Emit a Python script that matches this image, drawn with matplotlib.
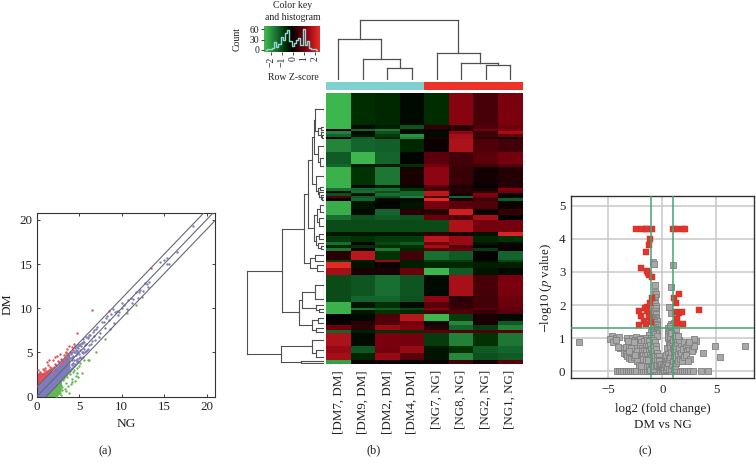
import numpy as np
import matplotlib
matplotlib.use("Agg")
import matplotlib.pyplot as plt
from matplotlib.colors import LinearSegmentedColormap

plt.rcParams['font.family'] = ['Liberation Serif', 'DejaVu Serif']
plt.rcParams['mathtext.fontset'] = 'stix'

# ---------- panel (a) data ----------
a_ticks = [0, 5, 10, 15, 20]
fold_offset = [1.1, 0.0, -1.1]
purple_dense_end = 3.9
red_dense_x = [0, 0.3, 0.6, 0.9, 1.2, 1.5, 1.8]
red_dense_top = [2.6, 2.8, 2.7, 2.85, 3.0, 3.2, 3.3]
green_dense_x = [1.1, 1.4, 1.7, 2.0, 2.3, 2.6, 2.9]
green_dense_bot = [0, 0, 0, 0, 0, 0.2, 0.7]
red_x = [6.5, 8.5, 4.8, 13.5, 0.2, 0.4, 0.7, 1.0, 1.3, 0.9, 1.2, 1.6, 1.9, 2.2, 2.4, 1.5, 1.8, 2.1, 2.5, 2.8, 3.0, 3.3,
         2.0, 2.3, 2.6, 2.9, 3.2, 3.5, 3.6, 3.9, 4.1, 4.3, 3.4, 3.7, 4.5, 4.7, 5.0, 5.3, 3.5, 2.2, 1.7, 1.1, 0.5, 2.7, 3.1, 4.0, 3.8, 4.4]
red_y = [9.8, 9.7, 7.15, 14.6, 3.0, 2.8, 3.1, 3.3, 3.6, 3.0, 3.9, 3.4, 4.1, 3.7, 4.6, 4.2, 3.3, 4.5, 4.0, 4.8, 4.1, 4.4,
         3.4, 3.6, 3.9, 4.3, 4.7, 4.9, 5.4, 5.1, 5.6, 5.3, 5.0, 4.7, 5.7, 5.2, 5.9, 6.1, 4.3, 3.0, 3.0, 2.9, 2.6, 3.6, 3.9, 4.9, 5.7, 6.0]
green_x = [7.0, 8.0, 6.0, 10.6, 11.7, 12.4, 6.2, 5.6, 5.0, 5.3, 4.9, 4.6, 4.2, 3.9, 3.6, 3.4, 3.1, 2.9, 4.4, 4.0, 3.7, 3.3, 3.0,
           2.7, 2.5, 4.1, 3.5, 3.2, 2.8, 4.7, 5.1, 3.8, 3.0, 2.6, 2.3, 1.9, 3.4, 4.3, 4.8, 2.9, 3.9, 4.5]
green_y = [5.1, 6.5, 4.1, 9.5, 10.4, 11.3, 4.2, 4.2, 3.5, 2.7, 2.2, 2.3, 1.7, 2.6, 2.2, 1.5, 1.9, 1.3, 3.0, 1.4, 1.2, 0.9, 1.1,
           1.6, 1.5, 2.0, 2.4, 2.1, 0.4, 3.2, 3.8, 0.4, 0.8, 0.9, 0.1, 0.3, 0.6, 2.8, 2.7, 0.2, 2.9, 1.8]
purple_x = [18.4, 16.5, 15.6, 15.3, 14.5, 15.0, 13.2, 13.0, 12.7, 12.2, 12.0, 11.7, 11.4, 11.1, 10.8, 10.3, 10.0, 9.7, 9.4, 9.1,
            9.0, 8.8, 8.5, 8.3, 8.0, 7.7, 7.4, 7.1, 6.9, 6.6, 6.4, 6.2, 6.0, 5.8, 5.6, 5.4, 5.2, 5.0, 4.8, 4.6, 4.4, 4.2, 4.0, 3.8,
            10.6, 10.1, 9.6, 9.2, 8.6, 8.2, 7.9, 7.3, 7.0, 6.7, 6.3, 5.9, 5.5, 5.1, 4.7, 4.3, 3.9,
            11.9, 12.5, 13.1, 11.2, 15.3, 6.1, 5.7, 5.3, 4.9, 4.5, 4.1, 3.8, 4.2, 4.6, 5.0, 5.4, 5.8]
purple_y = [19.3, 16.4, 15.0, 15.7, 15.2, 15.5, 13.0, 12.7, 12.8, 12.1, 11.8, 11.8, 11.0, 11.2, 10.9, 10.4, 10.6, 9.6, 9.7, 8.3,
            9.9, 9.4, 8.7, 9.1, 7.8, 8.4, 7.2, 7.9, 6.4, 7.3, 6.0, 7.0, 5.4, 6.7, 6.2, 6.5, 5.7, 5.9, 5.2, 5.3, 5.0, 4.5, 4.8, 4.0,
            9.9, 10.0, 9.2, 9.6, 7.6, 8.9, 8.5, 6.7, 7.6, 6.9, 7.0, 5.3, 5.0, 4.5, 4.9, 3.8, 4.4,
            11.2, 12.0, 12.4, 10.6, 15.0, 6.8, 5.9, 6.1, 5.5, 5.0, 4.4, 3.4, 3.7, 4.1, 4.4, 4.9, 5.2]
purple_extra = [(4.0, 3.1), (4.1, 3.6), (4.1, 4.2), (4.2, 3.3), (4.2, 5.1), (4.3, 4.6), (4.4, 3.5), (4.4, 4.1), (4.5, 5.5), (4.5, 3.7),
                (4.6, 4.7), (4.7, 3.9), (4.7, 5.6), (4.8, 4.3), (4.9, 4.0), (4.9, 5.8), (5.0, 4.8), (5.1, 5.3), (5.1, 6.0), (5.2, 4.4),
                (5.3, 5.0), (5.4, 4.5), (5.5, 6.2), (5.6, 5.4), (5.7, 5.1), (5.8, 6.0), (6.0, 6.6), (6.2, 5.8), (6.5, 6.3), (6.8, 7.5)]

# ---------- panel (b) data ----------
col_labels = ['[DM7, DM]', '[DM9, DM]', '[DM2, DM]', '[DM4, DM]', '[NG7, NG]', '[NG8, NG]', '[NG2, NG]', '[NG1, NG]']
col_groups = ['#7fd0cf', '#7fd0cf', '#7fd0cf', '#7fd0cf', '#ec3228', '#ec3228', '#ec3228', '#ec3228']
row_span = [32, 4, 2, 3, 3, 2, 13, 12, 3, 18, 3, 3, 2, 3, 2, 3, 8, 6, 5, 11, 4, 6, 3, 3, 3, 9, 2, 6, 7, 21, 6, 6, 2, 4, 7, 4, 5, 3, 13, 7, 7, 2, 2]
z_dm7 = [-1.9, -1.9, 0, -1.3, -1.0, -.1, -1.35, -.9, -1.0, -1.85, -1.85, -1.1, -.1, -.8, .6, .1, -1.8, -1.8, -1.1, -.75, -.25, -.6, -1.1, -.4, -1.2, .3, -.6, 1.9, 1.3, -.75, -.75, -1.85, -1.85, -1.85, 0, .1, .8, -1.0, 1.4, 1.2, 1.3, -1.7, -1.7]
z_dm9 = [-.45, -.1, -1.0, -.1, -.2, -.9, -1.0, -1.9, -.3, -.5, -.1, -1.0, -1.1, -.2, -.9, -1.0, -.2, -.1, -.8, -.75, -.25, -.5, -.05, -.5, .1, 1.5, -.3, -.2, .2, -.85, -1.0, -.2, -1.1, -.25, -.1, .3, .3, -.3, -.1, -.85, -.4, .1, .1]
z_dm2 = [-.4, -.3, -1.2, -.8, -.6, -.4, -.95, -1.0, -.3, -1.2, -.3, -1.1, -.8, -1.1, -.8, -.1, -.05, -1.0, -.9, -.75, -.25, -.6, -.7, -.5, -1.2, -.5, 1.2, .1, .2, -1.1, -1.0, -.5, -.9, -.5, .6, .6, 1.2, -.5, .95, .9, 1.2, .1, .1]
z_dm4 = [-.1, -.8, -.1, -.1, -1.5, -1.3, -.4, -.05, -.5, .2, -.1, -.5, -1.0, -1.0, -1.3, -.1, -.2, .3, -.8, -.75, -.25, -.6, -.9, -.5, -.4, .5, -.3, -.3, .8, -.85, -.8, -.1, -.7, -.4, 1.5, .9, 1.0, -.5, .9, 1.2, .7, .05, .05]
z_ng7 = [-.45, .4, .1, -.1, -.1, .2, .08, .7, .9, 1.1, .7, .5, 1.6, 1.5, .6, 1.9, .9, .3, .8, -.75, .4, 1.5, .9, 1.3, .7, -1.1, -.6, -.4, -1.9, -.1, 1.1, .7, 1.0, .5, -1.9, -.1, .3, .7, -.6, -.2, -.2, .1, .1]
z_ng8 = [1.05, .3, .3, 1.1, 1.3, 1.3, 1.4, .5, .5, .45, .2, .3, .3, .2, -1.0, .2, .7, 1.7, .6, 1.4, .2, 1.2, 1.2, .6, .8, -.9, -.6, -.4, -.9, 1.35, .3, .4, .5, .6, -.6, -1.4, -1.0, .6, -1.3, -.5, -1.4, .5, .5]
z_ng2 = [.55, .6, .9, .4, .5, .3, .6, .7, .5, .15, .0, .2, .4, 1.0, .8, .5, .6, .1, 1.3, .9, -.2, -.4, -.2, -.05, -.6, .05, -.1, -.3, -.2, .55, .5, .5, .7, .4, .2, .2, -.6, .6, -.5, -.9, -.8, .2, .2]
z_ng1 = [.95, .8, 1.0, 1.3, .8, .1, .5, .9, .7, .25, .3, 1.0, .8, .1, -.1, -.9, .1, .4, .0, .9, 1.8, -.5, -.1, .1, .1, -1.0, -.7, -.3, -.1, .95, .8, .8, .7, .7, -.1, -.9, -1.3, .7, -1.2, -1.0, -.9, .7, .7]
col_tree = (60, (40.7, 0, (21, 1, (12.3, 2, 3))), (27, 4, (17.3, 5, (15, 6, 7))))
row_tree = (7.7,
    (4.2,
        (2.05,
            (1.6,
                (1.2,
                    (1.0, (.9, 0, (.6, (.3, 1, 2), (.35, 3, (.2, 4, 5)))), (.6, 6, (.4, 7, 8))),
                    (.8, 9, (.6, (.4, 10, 11), (.5, 12, (.3, 13, (.2, 14, 15)))))),
                (1.0, (.7, (.4, 16, 17), (.5, 18, 19)), (.8, (.5, 20, 21), (.6, 22, (.3, 23, 24))))),
            (1.4, (.9, 25, 26), (.7, 27, 28))),
        (2.5,
            (2.2, (.9, 29, 30), (.8, 31, (.5, 32, 33))),
            (1.2, (.6, 34, 35), (.8, 36, 37)))),
    (4.3, (1.2, 38, (.8, 39, 40)), (2.35, 41, 42)))
hist_bins = [-2.4, -2.2, -2.0, -1.8, -1.6, -1.4, -1.2, -1.0, -.8, -.6, -.4, -.2, 0, .2, .4, .6, .8, 1.0, 1.2, 1.4, 1.6, 1.8, 2.0, 2.2]
hist_count = [0, 2, 3, 5, 22, 8, 18, 38, 30, 50, 58, 25, 12, 20, 28, 35, 15, 60, 15, 25, 6, 4, 2, 0]

# ---------- panel (c) data ----------
red_vx = [-2.47, -1.85, -1.54, -1.39, -.99, 1.02, 1.33, 1.88, 2.1, -1.14, -1.23, -1.51, -2.0, -1.42, -1.36, -1.27, -.99,
          -2.13, -1.98, -2.13, -1.67, -1.54, -1.6, -1.45, -1.39, -1.27, -1.14, -.99, -1.2, -1.08,
          1.08, 1.54, 1.23, 1.23, 1.54, 1.82, 3.36, 1.36, 1.33, 1.91]
red_vy = [4.3, 4.3, 4.3, 4.3, 4.3, 4.3, 4.3, 4.3, 4.3, 4.0, 3.82, 3.6, 3.12, 3.03, 2.98, 2.91, 2.86,
          1.83, 1.68, 1.40, 1.52, 1.42, 1.92, 1.95, 1.83, 1.73, 2.05, 2.2, 1.65, 1.48,
          2.2, 2.32, 2.06, 1.79, 1.77, 1.8, 1.84, 1.59, 1.47, 1.43]
gray_zero_x = [-4.2, -4.0, -3.8, -3.6, -3.4, -3.2, -3.0, -2.8, -2.6, -2.4, -2.0, -1.8, -1.6, -1.4, -1.2, -1.0, -.8, -.6, -.4, -.2, 0, .2, .4, .6, .8,
               1.2, 1.4, 1.6, 1.8, 2.0, 2.2, 2.4, 2.6, 2.8, 3.6, 4.2]
gray_outliers = [(-7.7, .9), (7.7, .78), (4.9, .76), (5.3, .42), (3.8, .54)]
gray_high = [(-.9, 3.3), (-.75, 3.25), (.95, 3.22), (.85, 2.55), (-.65, 2.62), (-.65, 2.38), (-.6, 2.32), (-.7, 2.25),
             (-.8, 2.15), (-.85, 2.08), (-.7, 2.05), (-.6, 1.98), (-.75, 1.9), (-.55, 1.9), (.65, 1.95), (.85, 1.75),
             (-.65, 1.82), (-.8, 1.75), (-.6, 1.72), (-.72, 1.65), (-.55, 1.62), (-.85, 1.58), (-.65, 1.55), (-.5, 1.52),
             (-.75, 1.48), (-.6, 1.44), (-.9, 1.42), (-.5, 1.4), (-.7, 1.35), (-.82, 1.3), (-.6, 1.28), (-.95, 1.25), (-.45, 1.26),
             (-.7, 1.2), (-1.05, 1.18), (-.55, 1.16), (-.85, 1.12), (-1.2, 1.1), (-.45, 1.08),
             (.85, 1.42), (.95, 1.42), (1.05, 1.45), (.7, 1.38), (.55, 1.3), (.75, 1.3), (.6, 1.2), (.85, 1.2),
             (1.25, 1.28), (.5, 1.12), (.72, 1.12), (.95, 1.1)]
gray_low = [(-4.7, 1.08), (-4.25, 1.0), (-4.05, 1.05), (-3.3, 1.0), (-2.8, 1.0), (-2.45, 1.03), (-1.75, 1.02), (-1.5, 1.02), (-1.05, 1.02),
            (-4.8, .98), (-4.6, .88), (-4.3, .94), (-3.6, .7), (-3.9, .7), (-2.55, .95), (-2.3, .92), (-2.05, .98), (-1.95, .88), (-1.7, .92), (-1.45, .95), (-1.2, .92), (-.9, .95),
            (-4.1, .73), (-3.35, .74), (-3.05, .78), (-2.75, .68), (-2.35, .77), (-2.05, .76), (-1.85, .72), (-1.55, .78), (-1.35, .76), (-1.1, .8), (-.85, .85), (-.65, .9),
            (-3.5, .56), (-3.35, .52), (-3.25, .45), (-3.05, .4), (-2.85, .38), (-2.65, .44), (-2.25, .6), (-1.95, .62), (-1.7, .65), (-1.5, .62), (-1.25, .6), (-1.05, .68), (-.8, .74), (-.6, .78),
            (-2.2, .42), (-2.1, .34), (-2.0, .32), (-1.85, .5), (-1.75, .5), (-1.6, .45), (-1.4, .5), (-1.15, .48), (-.95, .54), (-.75, .6), (-.55, .68), (-.45, .56),
            (-1.9, .3), (-1.8, .22), (-1.65, .33), (-1.45, .25), (-1.3, .22), (-1.15, .36), (-1.0, .4), (-.85, .42), (-.7, .46), (-.5, .44), (-.35, .46),
            (-1.55, .2), (-1.4, .17), (-1.2, .12), (-1.05, .1), (-.95, .2), (-.8, .28), (-.65, .3), (-.5, .33), (-.35, .34), (-.3, .3),
            (-1.1, .05), (-.9, .08), (-.75, .16), (-.6, .18), (-.45, .2), (-.3, .2), (-.2, .18), (-.15, .12), (-.1, .22), (-.05, .08),
            (0, .08), (.05, .2), (.1, .1), (.15, .05), (.2, .14), (.25, .22), (.3, .3), (.35, .06), (.45, .14), (.4, .36), (.5, .25), (.6, .08),
            (.35, .48), (.5, .58), (.65, .36), (.8, .08), (.45, .72), (.6, .85), (.75, .44), (.9, .2), (1.05, .08), (.5, 1.0), (.7, .74), (.85, .58), (1.0, .32), (1.15, .16),
            (.55, 1.08), (.75, .9), (.95, .7), (1.1, .46), (1.25, .24), (.8, .98), (1.0, .82), (1.2, .58), (1.35, .34), (.7, 1.04), (.9, .88), (1.1, .66), (1.3, .42), (1.5, .3),
            (1.0, .94), (1.2, .76), (1.45, .52), (1.65, .38), (.85, 1.15), (1.15, 1.05), (1.35, .86), (1.6, .62), (1.8, .46), (1.4, .98), (1.55, .72), (1.75, .56), (1.95, .36),
            (1.3, 1.06), (1.7, .82), (1.9, .68), (2.1, .5), (1.55, .95), (2.0, .9), (2.2, .74), (1.45, 1.08), (1.85, .32), (2.3, .62), (2.05, .44), (2.5, .7), (2.2, .5), (2.65, .85),
            (2.4, .82), (2.8, .66), (2.6, .38), (3.15, .92), (2.75, .6), (2.95, .98), (2.9, .76), (2.5, .9), (2.35, .3),
            (-2.6, .75), (-2.4, .6), (-2.5, .5), (-2.3, .3), (-2.15, .2), (-1.95, .15), (-1.75, .38), (-1.5, .35), (-1.3, .35), (-2.6, .88), (-2.9, .7), (-3.1, .6), (-3.2, .92)]
c_xticks = [-5, 0, 5]
c_yticks = [0, 1, 2, 3, 4, 5]
heat_levels = [-2, -1, -.45, 0, 1, 2]
heat_colors = ['#41be50', '#14642d', '#002d00', '#000000', '#82000f', '#eb2d28']

W, H = 756, 469
fig = plt.figure(figsize=(W / 100, H / 100), dpi=100, facecolor='white')


def add_ax(l, t, r, b):
    return fig.add_axes([l / W, 1 - b / H, (r - l) / W, (b - t) / H])


def txt(x, y, s, **kw):
    kw.setdefault('ha', 'center')
    kw.setdefault('va', 'center')
    kw.setdefault('color', '#222222')
    fig.text(x / W, 1 - y / H, s, **kw)


FS = 9.4

# ---------- (a) ----------
ax = add_ax(36.7, 212.7, 215, 396.7)
ax.set_xlim(0, 21)
ax.set_ylim(0, 20.8)
band_x = np.linspace(0, purple_dense_end, 50)
ax.fill_between(band_x, np.maximum(band_x + fold_offset[2], 0), band_x + fold_offset[0], color='#7d7dbe', lw=0, zorder=2)
ax.fill_between(red_dense_x, np.array(red_dense_x) + 1.0, red_dense_top, color='#e0525a', lw=0, zorder=1)
ax.fill_between(green_dense_x, green_dense_bot, np.array(green_dense_x) - 1.0, color='#62b84f', lw=0, zorder=1)
ax.scatter(red_x, red_y, s=3, c='#e0525a', lw=0, zorder=3)
ax.scatter(green_x, green_y, s=3, c='#62b84f', lw=0, zorder=3)
ax.scatter(purple_x, purple_y, s=3, c='#7d7dbe', lw=0, zorder=3)
ax.scatter(*zip(*purple_extra), s=3, c='#7d7dbe', lw=0, zorder=3)
line_x = np.array([0, 21])
for off in fold_offset:
    ax.plot(line_x, line_x + off, color='#666677', lw=0.8, zorder=4)
ax.set_xticks(a_ticks)
ax.set_yticks(a_ticks)
ax.tick_params(direction='in', length=2, width=0.6, top=True, right=True, labelsize=FS, pad=3, colors='#222222')
for s in ax.spines.values():
    s.set_linewidth(0.8)
    s.set_color('#333333')
txt(7.5, 304, 'DM', rotation=90, fontsize=FS + .3)
txt(126, 424, 'NG', fontsize=FS + .3)
txt(105, 451, '(a)', fontsize=FS - .5)


# ---------- dendrogram helper ----------
def walk(node, leaf_pos, segs):
    if not isinstance(node, tuple):
        return leaf_pos[node], 0.0
    h, a, b = node
    pa, ha = walk(a, leaf_pos, segs)
    pb, hb = walk(b, leaf_pos, segs)
    segs.append(([pa, pa], [ha, h]))
    segs.append(([pb, pb], [hb, h]))
    segs.append(([pa, pb], [h, h]))
    return (pa + pb) / 2, h


# ---------- (b) heat map ----------
Z = np.array([z_dm7, z_dm9, z_dm2, z_dm4, z_ng7, z_ng8, z_ng2, z_ng1]).T
edges = np.concatenate([[0], np.cumsum(row_span)])
centers = (edges[:-1] + edges[1:]) / 2
hm_cmap = LinearSegmentedColormap.from_list(
    'gbr', [((v + 2) / 4, c) for v, c in zip(heat_levels, heat_colors)])
ax = add_ax(326, 92.7, 522.5, 364.3)
ax.pcolormesh(np.arange(9), edges, Z, cmap=hm_cmap, vmin=-2, vmax=2)
ax.set_ylim(edges[-1], 0)
ax.axis('off')

ax = add_ax(326, 81.7, 522.5, 90)
ax.bar(range(8), [1] * 8, width=1, color=col_groups)
ax.set_xlim(-.5, 7.5)
ax.set_ylim(0, 1)
ax.axis('off')

ax = add_ax(326, 18, 522.5, 80)
segs = []
walk(col_tree, list(np.arange(8) + .5), segs)
for px, py in segs:
    ax.plot(px, py, color='#505050', lw=0.9, solid_capstyle='projecting')
ax.set_xlim(0, 8)
ax.set_ylim(0, 62)
ax.axis('off')

ax = add_ax(240, 92.7, 324, 364.3)
segs = []
walk(row_tree, list(centers), segs)
for py, px in segs:
    ax.plot(px, py, color='#505050', lw=0.8)
for c, sp in zip(centers, row_span):
    if sp >= 6:
        ax.plot([0, 0], [c - sp / 2, c + sp / 2], color='#505050', lw=0.8)
ax.set_ylim(edges[-1], 0)
ax.set_xlim(8.4, 0)
ax.axis('off')

for i, lab in enumerate(col_labels):
    txt(338.3 + i * 24.5, 370, lab, rotation=90, va='top', fontsize=FS)
txt(374, 450, '(b)', fontsize=FS - .5)

# ---------- colour key ----------
ax = add_ax(264.3, 26, 320.3, 51.7)
grad = np.linspace(-2, 2, 256)[None, :]
ax.imshow(grad, cmap=hm_cmap, vmin=-2, vmax=2, extent=[-2.58, 2.5, -5, 70], aspect='auto')
ax.step(hist_bins, hist_count, where='mid', color='#8fd6d2', lw=1.0)
ax.set_xlim(-2.58, 2.5)
ax.set_ylim(-5, 70)
ax.set_xticks([-2, -1, 0, 1, 2])
ax.set_xticklabels(['\u22122', '\u22121', '0', '1', '2'], rotation=90)
ax.set_yticks([0, 30, 60])
ax.tick_params(length=2, width=0.6, labelsize=7, pad=1.5, colors='#222222')
for s in ax.spines.values():
    s.set_visible(False)
txt(292.5, 5, 'Color key', fontsize=7)
txt(292.5, 17, 'and histogram', fontsize=7)
txt(293, 78, 'Row Z-score', fontsize=7)
txt(237, 39, 'Count', rotation=90, fontsize=7)

# ---------- (c) ----------
ax = add_ax(571, 195.7, 754, 378)
ax.set_xlim(-8.45, 8.49)
ax.set_ylim(-0.2, 5.3)
ax.set_xticks(c_xticks)
ax.set_yticks(c_yticks)
ax.set_xticklabels(['\u22125', '0', '5'])
ax.grid(True, color='#c8c8c8', lw=1.1, zorder=0)
ax.set_axisbelow(True)
gray_pts = np.array(gray_outliers + gray_high + gray_low)
ax.scatter(gray_zero_x, [0] * len(gray_zero_x), s=14, marker='s', c='#a8a8a8', edgecolors='#808080', lw=0.6, zorder=2)
ax.scatter(gray_pts[:, 0], gray_pts[:, 1], s=14, marker='s', c='#a8a8a8', edgecolors='#808080', lw=0.6, zorder=2)
ax.scatter(red_vx, red_vy, s=16, marker='s', c='#e0352b', edgecolors='#d03028', lw=0.3, zorder=3)
green = '#3fa676'
ax.axvline(-1, color=green, lw=1.1, zorder=4)
ax.axvline(1, color=green, lw=1.1, zorder=4)
ax.axhline(1.3, color=green, lw=1.1, zorder=4)
ax.tick_params(length=0, labelsize=FS, pad=4, colors='#222222')
for n, s in ax.spines.items():
    s.set_color('#333333')
    s.set_linewidth(1.0)
txt(545.7, 288, r'$-$log10 ($p$ value)', rotation=90, fontsize=FS)
txt(663, 409, 'log2 (fold change)', fontsize=FS)
txt(663, 425, 'DM vs NG', fontsize=FS)
txt(645, 451, '(c)', fontsize=FS - .5)

fig.savefig('out.png', dpi=100)
